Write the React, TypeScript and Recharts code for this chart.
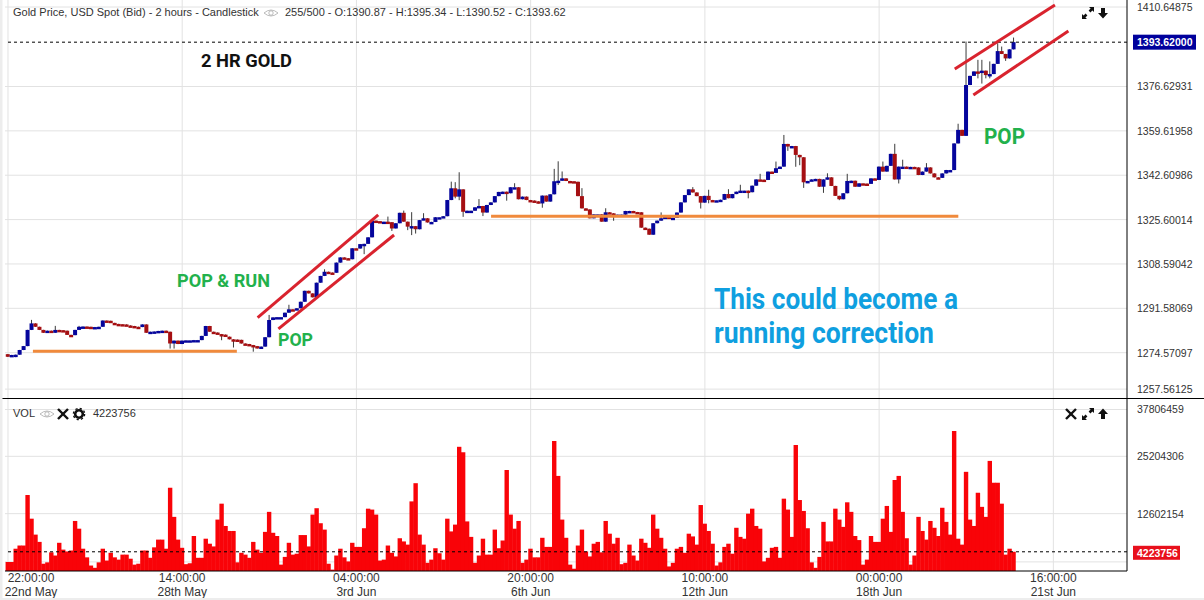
import React from "react";
import { ComposedChart, Bar, XAxis, YAxis, CartesianGrid, ReferenceLine, Rectangle } from "recharts";

// Closing prices of the 255 two-hour candles
const closes = [
  1273.0,1273.7,1273.8,1275.6,1277.1,1283.3,1285.8,1284.5,1283.3,1282.2,
  1283.0,1282.2,1283.3,1283.2,1283.0,1281.4,1281.3,1283.3,1284.5,1284.6,
  1284.5,1284.4,1284.4,1284.5,1286.9,1286.8,1286.0,1285.6,1285.5,1285.4,
  1285.0,1284.8,1284.5,1284.4,1285.4,1282.2,1282.6,1282.7,1282.9,1283.0,
  1282.6,1278.1,1279.2,1277.9,1279.2,1279.3,1279.3,1279.4,1279.4,1281.0,
  1284.8,1282.6,1282.3,1281.7,1281.5,1280.7,1279.7,1279.6,1279.5,1278.1,
  1277.9,1277.5,1277.1,1276.2,1276.9,1280.5,1287.1,1288.1,1288.2,1288.2,
  1289.9,1291.2,1291.0,1291.6,1294.1,1298.3,1297.3,1295.8,1301.4,1304.0,
  1305.6,1305.3,1305.2,1309.1,1311.1,1310.8,1310.4,1314.6,1314.5,1316.2,
  1316.3,1318.8,1325.2,1325.0,1324.8,1324.8,1324.6,1322.2,1324.2,1328.2,
  1324.8,1322.9,1323.1,1321.9,1325.4,1326.1,1324.5,1324.7,1326.5,1326.5,
  1326.9,1333.1,1337.6,1334.4,1337.2,1328.6,1329.0,1329.0,1330.3,1330.8,
  1328.3,1331.2,1332.2,1334.6,1336.2,1336.3,1335.7,1338.0,1338.0,1333.4,
  1334.4,1333.1,1332.9,1332.6,1331.8,1334.8,1332.5,1335.3,1340.3,1340.5,
  1341.4,1340.4,1340.3,1340.1,1334.6,1329.9,1329.5,1326.1,1327.6,1327.6,
  1324.8,1328.4,1328.0,1327.5,1327.5,1327.5,1328.9,1328.9,1328.5,1328.4,
  1322.5,1322.1,1319.8,1324.2,1325.2,1326.1,1326.7,1326.3,1326.3,1328.3,
  1332.2,1335.0,1337.2,1336.0,1334.6,1332.1,1334.7,1333.1,1333.0,1333.0,
  1333.2,1335.4,1333.8,1335.4,1336.3,1336.7,1336.7,1336.1,1338.6,1341.0,
  1340.9,1340.8,1344.0,1343.5,1345.3,1345.9,1354.6,1353.6,1353.8,1350.4,
  1349.5,1339.9,1340.4,1341.0,1341.2,1338.2,1341.0,1341.8,1338.5,1334.7,
  1333.4,1335.7,1340.4,1340.5,1338.2,1339.5,1339.4,1339.3,1341.4,1340.8,
  1345.9,1344.0,1346.2,1350.8,1341.0,1345.9,1345.9,1345.8,1345.8,1345.6,
  1342.7,1344.0,1345.6,1343.3,1341.8,1341.6,1343.3,1344.6,1344.6,1354.8,
  1360.0,1357.7,1377.2,1380.7,1382.4,1382.0,1382.7,1381.0,1381.4,1385.3,
  1390.2,1389.1,1387.4,1390.87,1393.62,
];
const firstOpen = 1274.0;

// Candles with a visible wick: [candle, high]
const highWicks = [
  [6,1287.1],[12,1284.8],[18,1284.8],[66,1289.0],[71,1292.9],[80,1306.5],[91,1318.0],[96,1326.7],
  [100,1329.0],[102,1328.4],[105,1328.0],[112,1340.1],[113,1339.9],[114,1343.7],[119,1333.4],
  [128,1339.5],[138,1345.0],[139,1347.9],[140,1344.0],[145,1337.6],[151,1329.9],[165,1328.3],
  [173,1338.0],[177,1337.0],[182,1337.2],[185,1338.9],[190,1343.1],[194,1347.8],[196,1358.0],
  [207,1343.3],[212,1343.1],[221,1347.8],[224,1354.6],[226,1348.5],[232,1347.2],[240,1362.3],
  [242,1393.8],[245,1386.8],[246,1386.8],[248,1386.2],[250,1393.2],[251,1391.9],[254,1395.34],
];
// Candles with a visible wick: [candle, low]
const lowWicks = [
  [2,1272.9],[16,1280.7],[41,1276.2],[42,1276.2],[54,1279.4],[57,1276.6],[62,1275.0],[90,1312.4],
  [97,1321.3],[101,1321.6],[102,1319.7],[103,1320.3],[113,1333.8],[114,1333.1],[115,1326.7],
  [120,1327.0],[126,1332.9],[135,1330.2],[139,1338.9],[153,1325.2],[175,1329.9],[177,1331.9],
  [187,1333.8],[197,1352.0],[199,1345.9],[200,1346.5],[201,1337.8],[206,1335.9],[210,1333.1],
  [225,1339.5],[245,1379.8],[246,1377.8],[247,1379.8],[248,1379.8],[252,1386.5],
];

// Volume of each candle, millions
const volumes = [
  2.0,2.0,4.9,5.6,5.6,16.7,11.5,8.0,6.4,1.6,
  1.9,4.1,3.4,6.2,4.7,4.3,4.5,11.0,9.3,4.9,
  3.0,1.2,0.7,1.9,4.9,2.3,4.0,3.0,2.5,3.6,
  3.6,2.7,1.4,1.6,4.5,4.5,2.9,5.2,6.9,6.9,
  4.9,18.3,11.9,6.9,5.1,1.5,1.7,7.7,2.9,2.9,
  7.1,6.0,5.4,11.3,14.8,9.9,8.8,8.8,1.9,4.0,
  3.6,2.9,6.4,4.7,4.0,8.6,13.0,8.4,7.7,1.4,
  3.1,6.2,3.6,3.8,7.9,7.9,5.4,12.4,13.8,10.5,
  9.1,1.6,0.3,3.4,4.9,3.0,2.1,6.2,5.3,5.3,
  9.4,13.7,13.5,12.4,2.3,2.5,5.6,4.0,3.2,7.2,
  6.5,5.8,15.3,19.3,8.0,5.8,1.8,2.5,5.0,3.9,
  2.5,11.5,8.7,10.2,27.3,26.1,10.9,7.5,1.8,3.4,
  7.1,3.6,3.6,9.1,5.0,6.7,22.2,12.4,9.3,11.0,
  1.8,2.5,4.9,3.0,3.0,7.3,5.3,5.3,28.6,20.9,
  11.3,7.3,1.4,0.5,5.6,9.1,4.3,3.2,6.0,6.4,
  4.1,11.0,8.2,6.0,7.3,1.5,1.8,5.8,3.4,2.3,
  7.1,6.2,5.1,12.4,9.3,7.3,4.9,1.0,1.8,4.9,
  5.3,4.0,8.2,7.6,5.8,14.5,10.4,8.8,6.0,1.2,
  1.9,5.3,6.0,3.8,9.5,7.5,7.1,12.6,13.7,9.9,
  9.3,2.1,2.9,5.1,5.3,2.9,15.9,13.5,7.5,27.7,
  15.6,13.2,9.4,1.9,0.7,3.1,10.8,6.5,6.5,13.7,
  11.3,9.7,15.1,13.0,7.7,6.8,1.4,2.5,7.7,6.4,
  6.4,11.5,14.3,8.6,20.0,20.9,13.0,7.2,1.4,3.4,
  11.9,8.8,6.9,11.0,9.5,7.7,13.9,10.8,8.0,30.8,
  7.1,5.8,21.8,11.3,9.9,17.2,14.1,11.9,24.2,19.4,
  19.4,14.8,3.6,4.9,4.223756,
];

const timeTicks = [0, 44, 88, 132, 176, 220, 264];
const timeLabels = ["22:00:00", "14:00:00", "04:00:00", "20:00:00", "10:00:00", "00:00:00", "16:00:00"];
const dateLabels = ["22nd May", "28th May", "3rd Jun", "6th Jun", "12th Jun", "18th Jun", "21st Jun"];

const priceDomain = [1257.2, 1409.79];
const priceTicks = [1407.1, 1393.62, 1376.62931, 1359.61958, 1342.60986, 1325.60014, 1308.59042, 1291.58069, 1274.57097, 1260.6];
const priceLabels = ["1410.64875", "1393.62000", "1376.62931", "1359.61958", "1342.60986", "1325.60014", "1308.59042", "1291.58069", "1274.57097", "1257.56125"];
const priceGrid = [1407.1, 1376.62931, 1359.61958, 1342.60986, 1325.60014, 1308.59042, 1291.58069, 1274.57097, 1260.6];
const lastPrice = 1393.62;

const volumeDomain = [0, 37.806459];
const volumeTicks = [35.5, 25.204306, 12.602154, 4.223756];
const volumeLabels = ["37806459", "25204306", "12602154", "4223756"];
const volumeGrid = [35.5, 25.204306, 12.602154, 2.0];
const lastVolume = 4.223756;

// Drawn trend lines, in chart coordinates: [candle1, price1, candle2, price2]
const orangeLines = [
  [6.3, 1275.1, 57.8, 1275.1],
  [122, 1326.9, 240, 1326.9],
];
const redLines = [
  [63.05, 1288.0, 93.5, 1327.4],
  [68.3, 1283.7, 97.5, 1319.7],
  [239.1, 1383.3, 264.4, 1407.9],
  [243.8, 1373.4, 267.8, 1397.9],
];

const xDomain = [-0.75, 282.6];

const candles = closes.map((close, i) => {
  const open = i === 0 ? firstOpen : closes[i - 1];
  const hw = highWicks.find((w) => w[0] === i);
  const lw = lowWicks.find((w) => w[0] === i);
  const high = Math.max(open, close, hw ? hw[1] : 0) + 0.05;
  const low = Math.min(open, close, lw ? lw[1] : 9999) - 0.05;
  return { i, open, close, range: [low, high], high };
});
const volumeRows = volumes.map((v, i) => ({ i, v }));

const FONT = "'Liberation Sans', Arial, sans-serif";
const BLUE = "#05059c";
const RED = "#a50f12";

function CandleShape(props: any) {
  const { x, y, width, height, payload } = props;
  const cx = x + width / 2;
  const [low, high] = payload.range;
  const k = height / (high - low);
  const top = y + (high - Math.max(payload.open, payload.close)) * k;
  const bot = y + (high - Math.min(payload.open, payload.close)) * k;
  const bh = Math.max(bot - top, 2.4);
  const up = payload.close >= payload.open;
  return (
    <g>
      <line x1={cx} x2={cx} y1={y} y2={y + height} stroke="#3a3a3a" strokeWidth={1} />
      <rect x={cx - 2} y={top} width={4} height={bh} fill={up ? BLUE : RED} />
    </g>
  );
}

function VolumeShape(props: any) {
  const { x, y, width, height } = props;
  return <Rectangle x={x + width / 2 - 2.2} y={y} width={4.4} height={height} fill="#f90308" />;
}

function PriceTick(props: any) {
  const { x, y, payload } = props;
  const idx = priceTicks.indexOf(payload.value);
  if (payload.value === lastPrice) {
    return (
      <g>
        <rect x={x + 4} y={y - 7.5} width={63} height={15} fill="#00009c" />
        <text x={x + 8} y={y + 4} fontFamily={FONT} fontSize={10.5} fontWeight={700} fill="#fff">{priceLabels[idx]}</text>
      </g>
    );
  }
  return <text x={x + 8} y={y + 4} fontFamily={FONT} fontSize={10.5} fill="#333">{priceLabels[idx]}</text>;
}

function VolumeTick(props: any) {
  const { x, y, payload } = props;
  const idx = volumeTicks.indexOf(payload.value);
  if (payload.value === lastVolume) {
    return (
      <g>
        <rect x={x + 4} y={y - 6} width={47} height={14} fill="#e8101c" />
        <text x={x + 8} y={y + 5} fontFamily={FONT} fontSize={10.5} fontWeight={700} fill="#fff">{volumeLabels[idx]}</text>
      </g>
    );
  }
  return <text x={x + 8} y={y + 4} fontFamily={FONT} fontSize={10.5} fill="#333">{volumeLabels[idx]}</text>;
}

function TimeTick(props: any) {
  const { x, y, payload } = props;
  const idx = timeTicks.indexOf(payload.value);
  const cx = Math.max(x, 31);
  return (
    <g fontFamily={FONT} fontSize={12} fill="#333" textAnchor="middle">
      <text x={cx} y={y + 9}>{timeLabels[idx]}</text>
      <text x={cx} y={y + 23}>{dateLabels[idx]}</text>
    </g>
  );
}

function Eye({ x, y }: { x: number; y: number }) {
  return (
    <g transform={`translate(${x},${y})`} fill="none" stroke="#aaa" strokeWidth={0.8}>
      <path d="M-7 0 Q0 -6 7 0 Q0 6 -7 0Z" />
      <circle r={2.2} />
    </g>
  );
}
function Cross({ x, y }: { x: number; y: number }) {
  return (
    <g transform={`translate(${x},${y})`} stroke="#111" strokeWidth={2.4}>
      <line x1={-5} y1={-5} x2={5} y2={5} />
      <line x1={5} y1={-5} x2={-5} y2={5} />
    </g>
  );
}
function Expand({ x, y }: { x: number; y: number }) {
  return (
    <g transform={`translate(${x},${y})`} fill="#111">
      <path d="M1 -6 L6 -6 L6 -1 L4.4 -2.6 L2.4 -0.6 L0.6 -2.4 L2.6 -4.4Z" />
      <path d="M-1 6 L-6 6 L-6 1 L-4.4 2.6 L-2.4 0.6 L-0.6 2.4 L-2.6 4.4Z" />
    </g>
  );
}
function Arrow({ x, y, down }: { x: number; y: number; down?: boolean }) {
  return (
    <g transform={`translate(${x},${y}) ${down ? "rotate(180)" : ""}`} fill="#111">
      <path d="M0 -5.5 L5 0 L2 0 L2 5 L-2 5 L-2 0 L-5 0Z" />
    </g>
  );
}
function Gear({ x, y }: { x: number; y: number }) {
  return (
    <g transform={`translate(${x},${y})`}>
      <circle r={3.8} fill="none" stroke="#111" strokeWidth={2.6} />
      <circle r={5.6} fill="none" stroke="#111" strokeWidth={1.4} strokeDasharray="2.2 2.2" />
    </g>
  );
}

function Note(p: { x: number; y: number; w: number; size: number; fill: string; children: string }) {
  return (
    <text x={p.x} y={p.y} fontFamily="'Liberation Sans Narrow', Roboto, sans-serif" fontSize={p.size} fontWeight={700} fill={p.fill} textLength={p.w} lengthAdjust="spacingAndGlyphs">
      {p.children}
    </text>
  );
}

export default function App() {
  return (
    <div style={{ position: "absolute", left: 0, top: 0, width: 1204, height: 600, background: "#fff", overflow: "hidden" }}>
      <div style={{ position: "absolute", left: 0, top: 0 }}>
        <ComposedChart width={1204} height={398} data={candles} margin={{ top: 0, right: 0, bottom: 0, left: 5 }}>
          <CartesianGrid stroke="#e2e2e2" horizontalValues={priceGrid} verticalValues={timeTicks} />
          <XAxis dataKey="i" type="number" domain={xDomain} ticks={timeTicks} hide allowDataOverflow />
          <YAxis
            orientation="right"
            width={77}
            domain={priceDomain}
            ticks={priceTicks}
            interval={0}
            allowDataOverflow
            tickLine={false}
            tickSize={0}
            axisLine={{ stroke: "#000", strokeWidth: 1 }}
            tick={PriceTick}
          />
          <ReferenceLine y={lastPrice} stroke="#000" strokeDasharray="3 3" />
          <Bar dataKey="range" barSize={4} shape={CandleShape} isAnimationActive={false} />
          {orangeLines.map((l, k) => (
            <ReferenceLine key={`o${k}`} ifOverflow="visible" stroke="#f08a3c" strokeWidth={3} segment={[{ x: l[0], y: l[1] }, { x: l[2], y: l[3] }]} />
          ))}
          {redLines.map((l, k) => (
            <ReferenceLine key={`r${k}`} ifOverflow="visible" stroke="#d9232e" strokeWidth={3} segment={[{ x: l[0], y: l[1] }, { x: l[2], y: l[3] }]} />
          ))}
        </ComposedChart>
      </div>
      <div style={{ position: "absolute", left: 0, top: 398 }}>
        <ComposedChart width={1204} height={202} data={volumeRows} margin={{ top: 1, right: 0, bottom: 0, left: 5 }}>
          <CartesianGrid stroke="#e2e2e2" horizontalValues={volumeGrid} verticalValues={timeTicks} />
          <XAxis
            dataKey="i"
            type="number"
            domain={xDomain}
            ticks={timeTicks}
            interval={0}
            allowDataOverflow
            height={29}
            tickLine={false}
            tickSize={0}
            axisLine={{ stroke: "#000", strokeWidth: 1 }}
            tick={TimeTick}
          />
          <YAxis
            orientation="right"
            width={77}
            domain={volumeDomain}
            ticks={volumeTicks}
            interval={0}
            allowDataOverflow
            tickLine={false}
            tickSize={0}
            axisLine={{ stroke: "#000", strokeWidth: 1 }}
            tick={VolumeTick}
          />
          <Bar dataKey="v" barSize={4} shape={VolumeShape} isAnimationActive={false} />
          <ReferenceLine y={lastVolume} stroke="#000" strokeDasharray="3 3" />
        </ComposedChart>
      </div>
      <svg width={1204} height={600} style={{ position: "absolute", left: 0, top: 0, pointerEvents: "none" }}>
        <line x1={0} x2={1204} y1={398.5} y2={398.5} stroke="#000" />
        <rect x={0} y={0} width={2.5} height={600} fill="#ededed" />
        <rect x={0} y={598} width={1204} height={2} fill="#ededed" />
        <g fontFamily={FONT} fontSize={11} fill="#333">
          <text x={13} y={16}>Gold Price, USD Spot (Bid) - 2 hours - Candlestick</text>
          <text x={285} y={16}>255/500 - O:1390.87 - H:1395.34 - L:1390.52 - C:1393.62</text>
          <text x={13} y={417}>VOL</text>
          <text x={93} y={417}>4223756</text>
        </g>
        <Eye x={271} y={13} />
        <Eye x={47} y={414} />
        <Cross x={63} y={414} />
        <Gear x={79} y={414} />
        <Expand x={1088} y={13} />
        <Arrow x={1103} y={13} down />
        <Cross x={1071} y={414} />
        <Expand x={1088} y={414} />
        <Arrow x={1103} y={414} />
        <Note x={201} y={67} w={91} size={18} fill="#111">2 HR GOLD</Note>
        <Note x={177} y={287} w={93} size={18} fill="#22b14c">POP &amp; RUN</Note>
        <Note x={278} y={346} w={35} size={18} fill="#22b14c">POP</Note>
        <Note x={984} y={144} w={41} size={22} fill="#22b14c">POP</Note>
        <Note x={714} y={309} w={244} size={29} fill="#0f9fe0">This could become a</Note>
        <Note x={714} y={343} w={220} size={29} fill="#0f9fe0">running correction</Note>
      </svg>
    </div>
  );
}
